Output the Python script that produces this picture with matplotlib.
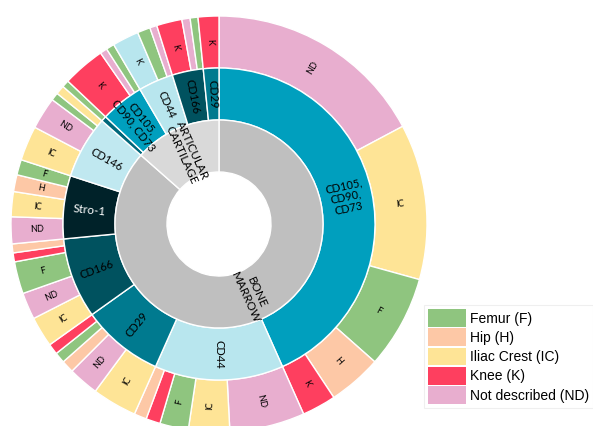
import numpy as np
import matplotlib
matplotlib.use('Agg')
import matplotlib.pyplot as plt
from matplotlib.patches import Patch

# inner ring: tissue of origin
tissues = ['BONE\nMARROW', 'ARTICULAR\nCARTILAGE']

# middle ring: markers, grouped by tissue (clockwise from 12 o'clock)
markers = ['CD105,\nCD90,\nCD73', 'CD44', 'CD29', 'CD166', 'Stro-1', 'CD146',
           '', 'CD105,\nCD90, CD73', 'CD44', 'CD166', 'CD29']
marker_tissue = [0, 0, 0, 0, 0, 0, 1, 1, 1, 1, 1]

# outer ring: cell source for each marker, sizes (degrees)
sources = [
    ['ND', 'IC', 'F', 'H', 'K'],
    ['ND', 'IC', 'F', 'K', 'H'],
    ['IC', 'ND', 'H', 'F', 'K'],
    ['IC', 'ND', 'F', 'K', 'H'],
    ['ND', 'IC', 'H', 'F'],
    ['IC', 'ND', 'F', 'IC'],
    ['F'],
    ['K', 'ND', 'F'],
    ['K', 'F', 'ND'],
    ['K', 'ND', 'F'],
    ['K'],
]
sizes = [
    [62, 43.5, 26, 15, 9.5],
    [21, 11.5, 8, 4, 3.5],
    [12.5, 8.5, 3.5, 3, 3],
    [8.5, 7.5, 9, 2.5, 2.5],
    [7.5, 7, 4.7, 4.3],
    [9.7, 9, 2.2, 2.5],
    [2],
    [11.9, 2, 2.3],
    [7.4, 3.6, 2],
    [7.1, 2.3, 2.2],
    [5.8],
]

legend_labels = ['Femur (F)', 'Hip (H)', 'Iliac Crest (IC)', 'Knee (K)', 'Not described (ND)']
legend_keys = ['F', 'H', 'IC', 'K', 'ND']

src_colors = {'F': '#8fc57f', 'H': '#fdc8a6', 'IC': '#fee496', 'K': '#fe3f5f', 'ND': '#e8aecf'}
tissue_colors = ['#bfbfbf', '#d9d9d9']
marker_colors = ['#009fbe', '#b8e6ee', '#007a8f', '#00525f', '#002229', '#c0e8f0',
                 '#00677a', '#009fbe', '#b8e6ee', '#00525f', '#007a8f']
marker_text = ['black'] * len(markers)
marker_text[4] = 'white'

# flatten outer ring
outer_vals = [v for grp in sizes for v in grp]
outer_lbls = [s for grp in sources for s in grp]
outer_cols = [src_colors[s] for s in outer_lbls]
outer_cols[sum(len(g) for g in sizes[:8])] = '#b8e6ee'  # knee slice drawn light blue in the source
marker_vals = [sum(g) for g in sizes]
tissue_vals = [sum(v for v, t in zip(marker_vals, marker_tissue) if t == i) for i in range(2)]

fig = plt.figure(figsize=(5.93, 4.26), dpi=100)
ax = fig.add_axes([11 / 593, -6 / 426, 416 / 593, 416 / 426])

wp = dict(width=0.25, edgecolor='white', linewidth=1.0)
w_out, _ = ax.pie(outer_vals, radius=1.0, colors=outer_cols, startangle=90,
                  counterclock=False, wedgeprops=wp)
w_mid, _ = ax.pie(marker_vals, radius=0.75, colors=marker_colors, startangle=90,
                  counterclock=False, wedgeprops=wp)
w_in, _ = ax.pie(tissue_vals, radius=0.5, colors=tissue_colors, startangle=90,
                 counterclock=False, wedgeprops=wp)
ax.set_xlim(-1, 1)
ax.set_ylim(-1, 1)
ax.set_aspect('equal')
ax.axis('off')


def label_ring(wedges, texts, min_span, colors=None, sizes_pt=None):
    for i, (w, t) in enumerate(zip(wedges, texts)):
        if not t or (w.theta2 - w.theta1) < min_span:
            continue
        mid = (w.theta1 + w.theta2) / 2
        r = w.r - w.width / 2
        rot = (mid + 180) % 360 - 180
        if rot > 90:
            rot -= 180
        elif rot < -90:
            rot += 180
        ax.text(r * np.cos(np.radians(mid)), r * np.sin(np.radians(mid)), t,
                rotation=rot, rotation_mode='anchor', ha='center', va='center',
                fontfamily='Lato', linespacing=1.05,
                fontsize=sizes_pt[i] if sizes_pt else 6.5,
                color=colors[i] if colors else 'black')


label_ring(w_out, outer_lbls, 4.2)
label_ring(w_mid, markers, 4, colors=marker_text,
           sizes_pt=[8.5 if m == 'Stro-1' else 8 for m in markers])
label_ring(w_in, tissues, 4, sizes_pt=[8.5, 8.5])

handles = [Patch(facecolor=src_colors[k], edgecolor='none') for k in legend_keys]
leg = fig.legend(handles, legend_labels, loc='upper left',
                 bbox_to_anchor=(424 / 593, 1 - 305 / 426),
                 prop={'family': 'Liberation Sans', 'size': 10},
                 handlelength=2.75, handleheight=1.6, handletextpad=0.25,
                 labelspacing=0.1, borderpad=0.3, borderaxespad=0,
                 frameon=True, fancybox=False)
leg.get_frame().set_edgecolor('#ececec')
leg.get_frame().set_linewidth(0.8)

fig.savefig('out.png', dpi=100)
